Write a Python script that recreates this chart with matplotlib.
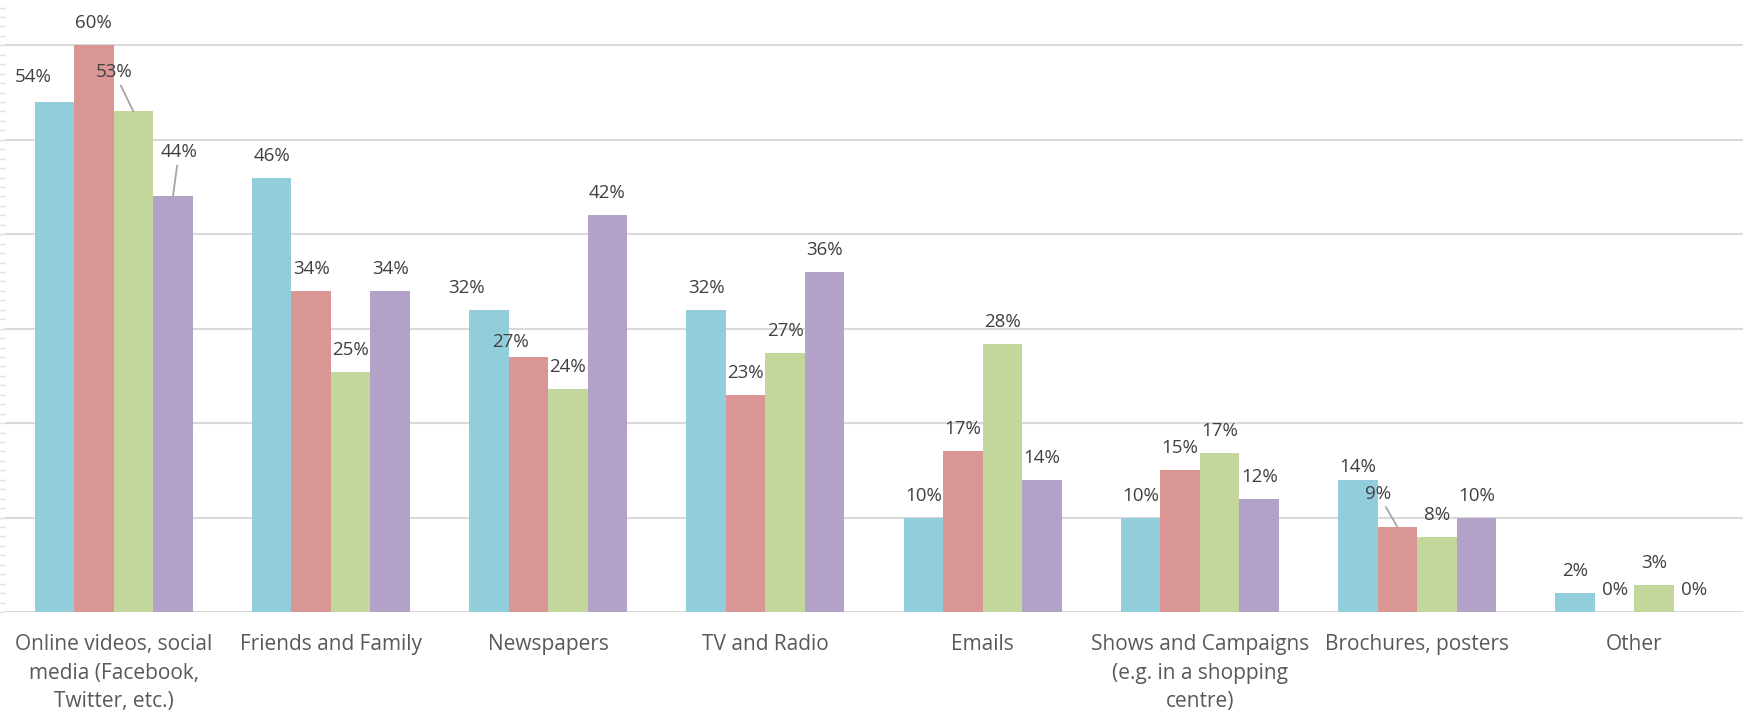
import matplotlib.pyplot as plt
import numpy as np

plt.rcParams['font.family'] = ['Open Sans', 'DejaVu Sans']

categories = ["Online videos, social\nmedia (Facebook,\nTwitter, etc.)", "Friends and Family", "Newspapers",
              "TV and Radio", "Emails", "Shows and Campaigns\n(e.g. in a shopping\ncentre)",
              "Brochures, posters", "Other"]
series_a = [54, 46, 32, 32, 10, 10, 14, 2]
series_b = [60, 34, 27, 23, 17, 15, 9, 0]
series_c = [53, 25.4, 23.6, 27.4, 28.4, 16.8, 7.9, 2.9]
series_d = [44, 34, 42, 36, 14, 12, 10, 0]
colors = ['#92CDDC', '#D99694', '#C3D69B', '#B3A2C7']

# label nudges (pixels) where the labels were moved off the default spot
nudge = {(0, 0): (-21, 3), (0, 2): (-19, 17), (0, 3): (6, 22),
         (2, 0): (-22, 0), (2, 1): (-18, -7),
         (6, 0): (0, -9), (6, 1): (-19, 11)}
leaders = [(0, 2), (0, 3), (6, 1)]

fig = plt.figure(figsize=(17.43, 7.15), dpi=100)
ax = fig.add_axes([5 / 1743, 103 / 715, 1 - 5 / 1743, 612 / 715])

x = np.arange(len(categories))
w = 0.182
all_series = [series_a, series_b, series_c, series_d]
for i, vals in enumerate(all_series):
    vals = np.array(vals) / 100
    pos = x + (i - 1.5) * w
    ax.bar(pos, vals, w, color=colors[i], linewidth=0, zorder=2)
    for j, v in enumerate(vals):
        dx, dy = nudge.get((j, i), (0, 0))
        lead = (j, i) in leaders
        ax.annotate(f"{round(v * 100)}%", xy=(pos[j], v), xytext=(dx, 22 + dy),
                    textcoords='offset pixels', ha='center', va='center',
                    fontsize=13.5, color='#404040', zorder=3,
                    arrowprops=dict(arrowstyle='-', color='#A6A6A6', lw=1.3,
                                    shrinkA=1, shrinkB=0) if lead else None)

ax.set_xlim(-0.5, len(categories) - 0.5)
ax.set_ylim(0, 0.648)
ax.set_yticks(np.arange(0, 0.61, 0.1))
ax.set_yticks(np.arange(0, 0.648, 0.01), minor=True)
ax.set_yticklabels([])
ax.grid(axis='y', color='#D9D9D9', linewidth=1.5, zorder=0)
ax.set_axisbelow(True)
for s in ax.spines.values():
    s.set_visible(False)
ax.tick_params(axis='y', which='both', length=5, width=1, color='#E8E0CE')
ax.set_xticks(x)
ax.set_xticklabels(categories, fontsize=15, color='#595959', linespacing=1.46)
ax.tick_params(axis='x', length=0, pad=16)

plt.savefig('out.png', dpi=100)
